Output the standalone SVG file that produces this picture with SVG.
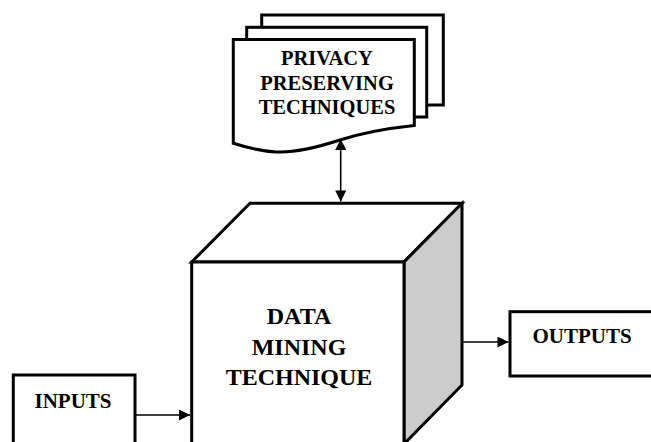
<svg xmlns="http://www.w3.org/2000/svg" width="651" height="442" viewBox="0 0 651 442">
  <style>
    .box { fill: #ffffff; stroke: #000000; stroke-width: 3; stroke-linejoin: miter; }
    .side { fill: #cccccc; stroke: #000000; stroke-width: 3; stroke-linejoin: miter; }
    .label { font-weight: bold; fill: #000000; text-anchor: middle; }
    .link { stroke: #000000; stroke-width: 1.6; fill: none; }
  </style>
  <defs>
    <marker id="arrow" viewBox="0 0 10 10" refX="10" refY="5" markerWidth="12" markerHeight="11" markerUnits="userSpaceOnUse" orient="auto-start-reverse">
      <path d="M0,0 L10,5 L0,10 Z" fill="#000000"/>
    </marker>
  </defs>

  <rect width="651" height="442" fill="#ffffff"/>

  <g font-family="'Liberation Serif', 'Times New Roman', serif">
    <!-- stacked document: privacy preserving techniques -->
    <g id="privacy">
      <rect class="box" x="261.7" y="15" width="181.6" height="90"/>
      <rect class="box" x="246.7" y="27.3" width="180" height="89.7"/>
      <path class="box" d="M233.3,39.5 H414.3 V125.5 C395,127.5 365,132 340,140 C315,148 295,153 276,152 C258,151 245,147 233.3,143.3 Z"/>
      <text class="label" font-size="20.5" x="327" y="65">PRIVACY</text>
      <text class="label" font-size="20.5" x="327" y="90">PRESERVING</text>
      <text class="label" font-size="20.5" x="327" y="114">TECHNIQUES</text>
    </g>

    <!-- cube: data mining technique -->
    <g id="mining">
      <polygon class="box" points="191.7,262 250,203.3 462,203.3 404,262"/>
      <polygon class="side" points="404,262 462,203.3 462,385 404,444"/>
      <rect class="box" x="191.7" y="262" width="212.3" height="190"/>
      <text class="label" font-size="24" x="299" y="324">DATA</text>
      <text class="label" font-size="24" x="299" y="355">MINING</text>
      <text class="label" font-size="24" x="299" y="385">TECHNIQUE</text>
    </g>

    <!-- inputs box -->
    <g id="inputs">
      <rect class="box" x="13.3" y="375" width="121.7" height="80"/>
      <text class="label" font-size="21" x="73" y="408">INPUTS</text>
    </g>

    <!-- outputs box -->
    <g id="outputs">
      <rect class="box" x="510" y="311.7" width="160" height="64.3"/>
      <text class="label" font-size="21" x="582" y="343">OUTPUTS</text>
    </g>
  </g>

  <!-- connectors -->
  <g id="connectors">
    <line class="link" x1="340.7" y1="139" x2="340.7" y2="201.5" marker-start="url(#arrow)" marker-end="url(#arrow)"/>
    <line class="link" x1="135" y1="415" x2="190" y2="415" marker-end="url(#arrow)"/>
    <line class="link" x1="462" y1="342" x2="508.5" y2="342" marker-end="url(#arrow)"/>
  </g>
</svg>
